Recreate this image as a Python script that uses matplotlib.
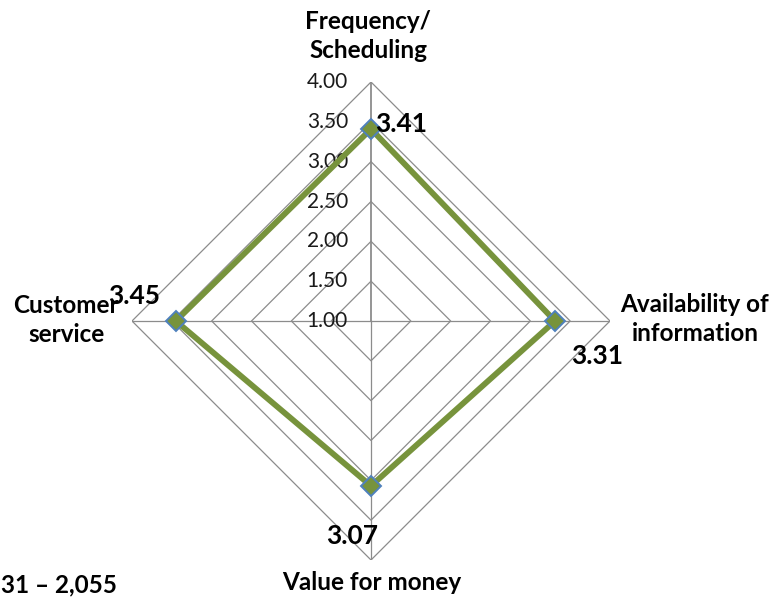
import numpy as np
import matplotlib
matplotlib.use("Agg")
import matplotlib.pyplot as plt

# Survey ratings (scale 1-4), clockwise from the top
categories = ["Frequency/\nScheduling", "Availability of\ninformation",
              "Value for money", "Customer\nservice"]
scores = [3.41, 3.31, 3.07, 3.45]
ring_levels = [1.00, 1.50, 2.00, 2.50, 3.00, 3.50, 4.00]
ring_labels = ["1.00", "1.50", "2.00", "2.50", "3.00", "3.50", "4.00"]
sample_note = "31 \u2013 2,055"

W, H = 774, 599
plt.rcParams["font.family"] = ["Lato", "DejaVu Sans"]

fig = plt.figure(figsize=(W / 100, H / 100), dpi=100)

def px(x, y):
    return x / W, 1 - y / H

cx, cy, R = 371, 321, 239
x0, y0 = px(cx - R, cy + R)
ax = fig.add_axes([x0, y0, 2 * R / W, 2 * R / H], projection="polar")
ax.set_theta_zero_location("N")
ax.set_theta_direction(-1)
ax.set_ylim(ring_levels[0], ring_levels[-1])
ax.grid(False)
ax.set_xticks([])
ax.set_yticks([])
ax.spines["polar"].set_visible(False)
ax.patch.set_alpha(0)

n = len(categories)
angles = np.arange(n) * 2 * np.pi / n
closed = np.append(angles, angles[0])

grid_col = "#8C8C8C"
# Polygon rings
for lvl in ring_levels[1:]:
    ax.plot(closed, [lvl] * (n + 1), color=grid_col, lw=0.9, zorder=1)
# Spokes
for i, a in enumerate(angles):
    ax.plot([a, a], [ring_levels[0], ring_levels[-1]], color=grid_col,
            lw=1.3 if i == 0 else 0.9, zorder=1)

# Ring value labels along the vertical axis
for lvl, lab in zip(ring_levels, ring_labels):
    ax.annotate(lab, xy=(0, lvl), xytext=(-23, 0), textcoords="offset pixels",
                ha="right", va="center", fontsize=15, color="#1a1a1a")

# Data series
vals = np.append(scores, scores[0])
ax.plot(closed, vals, color="#77933C", lw=4.2, zorder=3,
        solid_joinstyle="miter")
ax.plot(angles, scores, ls="none", marker="D", markersize=10,
        markerfacecolor="#77933C", markeredgecolor="#4F81BD",
        markeredgewidth=1.4, zorder=4)

# Value labels
offsets = [((4, 5), "left"), ((42, -35), "center"),
           ((-19, -50), "center"), ((-42, 25), "center")]
for a, v, (off, ha) in zip(angles, scores, offsets):
    ax.annotate(f"{v:.2f}", xy=(a, v), xytext=off, textcoords="offset pixels",
                ha=ha, va="center", fontsize=19, fontweight="bold",
                color="black", zorder=5)

# Category labels
cat_pos = [((368, 36), "center"), ((695, 319), "center"),
           ((372, 583), "center"), ((66, 320), "center")]
for lab, ((x, y), ha) in zip(categories, cat_pos):
    fx, fy = px(x, y)
    fig.text(fx, fy, lab, ha=ha, va="center", fontsize=17.5,
             fontweight="bold", linespacing=1.35, multialignment="center")

fx, fy = px(1, 585)
fig.text(fx, fy, sample_note, ha="left", va="center", fontsize=17.5,
         fontweight="bold")

fig.savefig("out.png", dpi=100)
